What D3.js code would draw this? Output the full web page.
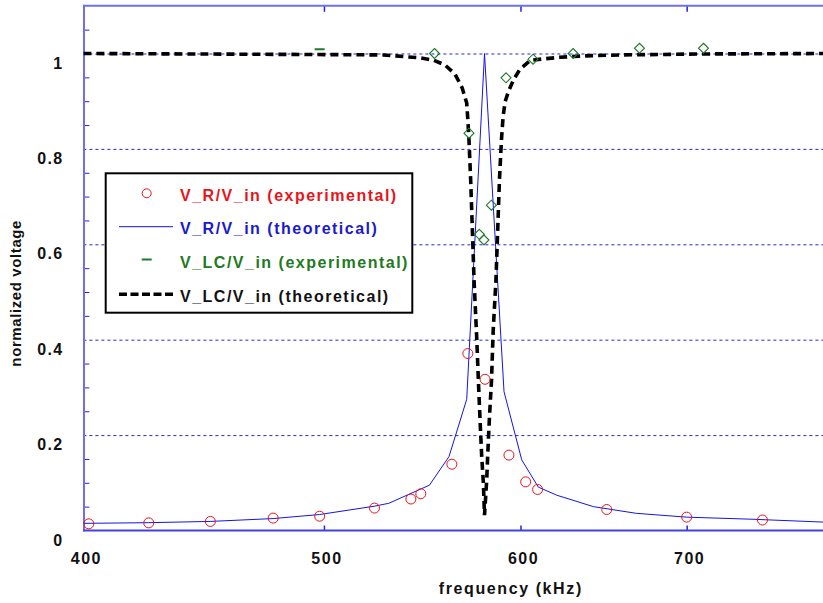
<!DOCTYPE html>
<html>
<head>
<meta charset="utf-8">
<script src="https://cdn.jsdelivr.net/npm/d3@7"></script>
<style>
  html, body { margin: 0; padding: 0; background: #fff; }
  svg { display: block; }
  text { font-family: "Liberation Sans", Arial, sans-serif; font-weight: bold; }
</style>
</head>
<body>
<div id="chart"></div>
<script>
// V_R/V_in measured points (kHz, normalized)
const vrExpFreq = [402, 425, 450, 477, 498, 524, 542, 547, 563, 571.4, 580.6, 593.6, 602.9, 609.6, 650, 700, 751];
const vrExpVal = [0.014, 0.016, 0.019, 0.026, 0.030, 0.047, 0.066, 0.077, 0.139, 0.371, 0.317, 0.158, 0.102, 0.086, 0.044, 0.028, 0.022];

// V_R/V_in theory (coarse polyline as drawn)
const vrTheoryFreq = [400, 425, 450, 477, 498, 524, 531, 551.4, 561.5, 570.8, 580.3, 590.9, 600.7, 610, 620.5, 642, 668, 700, 745, 800];
const vrTheoryVal = [0.015, 0.0164, 0.019, 0.025, 0.0335, 0.051, 0.057, 0.095, 0.155, 0.275, 1.0, 0.291, 0.148, 0.091, 0.074, 0.05, 0.036, 0.028, 0.0235, 0.017];

// V_LC/V_in measured points
const vlcExpFreq = [498, 554, 572, 577.5, 580, 584, 592, 607, 630, 670, 711];
const vlcExpVal = [1.009, 1.0, 0.833, 0.621, 0.609, 0.682, 0.949, 0.988, 1.0, 1.011, 1.011];

// V_LC/V_in theory
const vlcTheoryFreq = [400, 489, 528.3, 539.9, 546.6, 553.4, 559.4, 564.6, 568.4, 570.8, 571.4, 572.0, 572.9, 574.7, 576.1, 577.0, 577.9, 578.8, 579.7, 580.3,
  581.5, 582.0, 582.9, 584.1, 585.0, 586.5, 588.4, 589.5, 590.4, 591.5, 593.3, 596.0, 599.7, 605.7, 622.4, 636.0, 658.9, 708.7, 800];
const vlcTheoryVal = [1.0, 0.998, 0.997, 0.993, 0.991, 0.986, 0.976, 0.957, 0.928, 0.896, 0.861, 0.819, 0.735, 0.525, 0.406, 0.316, 0.232, 0.155, 0.099, 0.032,
  0.106, 0.155, 0.232, 0.316, 0.420, 0.525, 0.735, 0.819, 0.868, 0.899, 0.920, 0.944, 0.967, 0.986, 0.992, 0.995, 0.997, 0.999, 1.0];

const yTicks = [0, 0.2, 0.4, 0.6, 0.8, 1];
const yTickLabels = ["0", "0.2", "0.4", "0.6", "0.8", "1"];
const yMinorTicks = [0.05, 0.1, 0.15, 0.25, 0.3, 0.35, 0.45, 0.5, 0.55, 0.65, 0.7, 0.75, 0.85, 0.9, 0.95, 1.05];
const xTicks = [500, 600, 700];
const xTickLabels = ["400", "500", "600", "700"];
const xLabelValues = [400, 500, 600, 700];
const legendLabels = ["V_R/V_in (experimental)", "V_R/V_in (theoretical)", "V_LC/V_in (experimental)", "V_LC/V_in (theoretical)"];

(function () {
  const width = 823;
  const height = 603;
  const left = 83.4;
  const top = 5.8;
  const bottom = 530.5;

  const red = "#e8141a";
  const blue = "#1414e0";
  const green = "#1f7a2a";
  const axisBlue = "#6f6fee";

  const x = d3.scaleLog().domain([400, 800]).range([left, left + 1078 * Math.LN2]);
  const y = d3.scaleLinear().domain([0, 1.1]).range([bottom, top]);

  const svg = d3.select("#chart").append("svg")
    .attr("width", width)
    .attr("height", height);

  svg.append("defs").append("clipPath")
    .attr("id", "plot-clip")
    .append("rect")
    .attr("x", left)
    .attr("y", top)
    .attr("width", width - left)
    .attr("height", bottom - top);

  // gridlines
  const grid = svg.append("g")
    .attr("transform", `translate(${left},0)`)
    .call(d3.axisRight(y).tickValues(yTicks.slice(1)).tickSize(width - left).tickFormat(""));
  grid.select(".domain").remove();
  grid.selectAll("line")
    .attr("stroke", "#2626d6")
    .attr("stroke-width", 1)
    .attr("stroke-dasharray", "3,3");

  // minor ticks on the left axis
  const minor = svg.append("g")
    .attr("transform", `translate(${left},0)`)
    .call(d3.axisRight(y).tickValues(yMinorTicks).tickSize(6).tickFormat(""));
  minor.select(".domain").remove();
  minor.selectAll("line").attr("stroke", "#2222d8").attr("stroke-width", 1);

  // y tick labels
  const yLab = svg.append("g")
    .attr("transform", `translate(${left},0)`)
    .call(d3.axisLeft(y).tickValues(yTicks).tickSize(0).tickPadding(20)
      .tickFormat((d, i) => yTickLabels[i]));
  yLab.select(".domain").remove();
  yLab.selectAll("text")
    .attr("dy", "14.5")
    .attr("fill", "#111")
    .style("font-size", "16px")
    .style("letter-spacing", "1.3px");

  // x ticks bottom and top
  const xBottom = svg.append("g")
    .attr("transform", `translate(0,${bottom})`)
    .call(d3.axisBottom(x).tickValues(xTicks).tickSize(-5).tickFormat(""));
  xBottom.select(".domain").remove();
  xBottom.selectAll("line").attr("stroke", "#2222d8").attr("stroke-width", 1.5);

  const xTop = svg.append("g")
    .attr("transform", `translate(0,${top})`)
    .call(d3.axisBottom(x).tickValues(xTicks).tickSize(6).tickFormat(""));
  xTop.select(".domain").remove();
  xTop.selectAll("line").attr("stroke", "#2222d8").attr("stroke-width", 1.5);

  const xLab = svg.append("g")
    .attr("transform", `translate(0,${bottom})`)
    .call(d3.axisBottom(x).tickValues(xLabelValues).tickSize(0).tickPadding(22.6)
      .tickFormat((d, i) => xTickLabels[i]));
  xLab.select(".domain").remove();
  xLab.selectAll("text")
    .attr("dx", "2.5")
    .attr("fill", "#111")
    .style("font-size", "16px")
    .style("letter-spacing", "1.5px");

  // frame lines
  svg.append("line")
    .attr("x1", left).attr("x2", width)
    .attr("y1", top).attr("y2", top)
    .attr("stroke", axisBlue).attr("stroke-width", 2);
  svg.append("line")
    .attr("x1", left + 0.6).attr("x2", left + 0.6)
    .attr("y1", top - 1).attr("y2", bottom + 1)
    .attr("stroke", axisBlue).attr("stroke-width", 2);
  svg.append("line")
    .attr("x1", left).attr("x2", width)
    .attr("y1", bottom).attr("y2", bottom)
    .attr("stroke", "#4040e6").attr("stroke-width", 2);

  const plot = svg.append("g").attr("clip-path", "url(#plot-clip)");

  const line = d3.line()
    .x((d) => x(d[0]))
    .y((d) => y(d[1]));

  plot.append("path")
    .datum(d3.zip(vrTheoryFreq, vrTheoryVal))
    .attr("d", line)
    .attr("fill", "none")
    .attr("stroke", blue)
    .attr("stroke-width", 1);

  plot.append("path")
    .datum(d3.zip(vlcTheoryFreq, vlcTheoryVal))
    .attr("d", line)
    .attr("fill", "none")
    .attr("stroke", "#000")
    .attr("stroke-width", 3.6)
    .attr("stroke-dasharray", "8,5");

  plot.selectAll(".vr-exp")
    .data(d3.zip(vrExpFreq, vrExpVal))
    .join("circle")
    .attr("class", "vr-exp")
    .attr("cx", (d) => x(d[0]))
    .attr("cy", (d) => y(d[1]))
    .attr("r", 5)
    .attr("fill", "none")
    .attr("stroke", red)
    .attr("stroke-width", 1);

  plot.selectAll(".vlc-exp")
    .data(d3.zip(vlcExpFreq, vlcExpVal))
    .join("path")
    .attr("class", "vlc-exp")
    .attr("transform", (d) => `translate(${x(d[0])},${y(d[1])})`)
    .attr("d", (d, i) => i === 0 ? "M-5,0H5" : "M0,-5L5,0L0,5L-5,0Z")
    .attr("fill", "none")
    .attr("stroke", green)
    .attr("stroke-width", (d, i) => i === 0 ? 2 : 1.1);

  // axis titles
  svg.append("text")
    .attr("x", 510.8)
    .attr("y", 594)
    .attr("text-anchor", "middle")
    .attr("fill", "#111")
    .style("font-size", "16px")
    .style("letter-spacing", "1.6px")
    .text("frequency (kHz)");

  svg.append("text")
    .attr("transform", "translate(21,293.3) rotate(-90)")
    .attr("text-anchor", "middle")
    .attr("fill", "#111")
    .style("font-size", "15px")
    .style("letter-spacing", "0.6px")
    .text("normalized voltage");

  // legend
  const legend = svg.append("g");
  legend.append("rect")
    .attr("x", 105.7)
    .attr("y", 173.3)
    .attr("width", 306.6)
    .attr("height", 139.4)
    .attr("fill", "#fff")
    .attr("stroke", "#000")
    .attr("stroke-width", 2);

  const rowY = [193.3, 226.7, 259.5, 294.3];
  const rowBase = [200.7, 234, 268.3, 301.7];
  const rowColor = [red, "#1a1acd", "#217a21", "#111"];

  legend.append("circle")
    .attr("cx", 146.7).attr("cy", rowY[0]).attr("r", 4.5)
    .attr("fill", "none").attr("stroke", red).attr("stroke-width", 1);
  legend.append("line")
    .attr("x1", 119).attr("x2", 173).attr("y1", rowY[1]).attr("y2", rowY[1])
    .attr("stroke", blue).attr("stroke-width", 1);
  legend.append("line")
    .attr("x1", 141.7).attr("x2", 151.7).attr("y1", rowY[2]).attr("y2", rowY[2])
    .attr("stroke", green).attr("stroke-width", 2);
  legend.append("line")
    .attr("x1", 119).attr("x2", 173).attr("y1", rowY[3]).attr("y2", rowY[3])
    .attr("stroke", "#000").attr("stroke-width", 3.6).attr("stroke-dasharray", "8,3.5");

  legend.selectAll(".legend-label")
    .data(legendLabels)
    .join("text")
    .attr("class", "legend-label")
    .attr("x", 180)
    .attr("y", (d, i) => rowBase[i])
    .attr("fill", (d, i) => rowColor[i])
    .style("font-size", "16px")
    .style("letter-spacing", "1.5px")
    .text((d) => d);
})();
</script>
</body>
</html>
